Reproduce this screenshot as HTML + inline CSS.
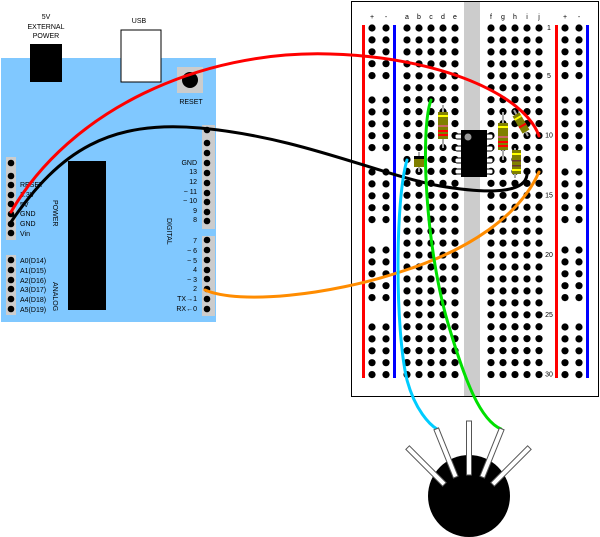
<!DOCTYPE html>
<html><head><meta charset="utf-8"><style>body{margin:0;background:#fff}svg{display:block}text{font-family:"Liberation Sans",sans-serif}</style></head>
<body>
<svg id="s" width="600" height="537" viewBox="0 0 600 537" xmlns="http://www.w3.org/2000/svg">
<!-- Arduino -->
<rect x="1" y="58" width="215" height="264" fill="#80c8ff"/>
<rect x="30" y="44" width="32" height="38" fill="#000"/>
<rect x="121" y="30" width="40" height="52" fill="#fff" stroke="#000"/>
<rect x="177" y="67" width="26" height="26" fill="#ccc"/>
<circle cx="190" cy="80" r="8" fill="#000"/>
<rect x="68" y="161" width="38" height="149" fill="#000"/>
<rect x="6" y="157" width="10" height="83" fill="#ccc"/>
<rect x="6" y="255" width="10" height="60" fill="#ccc"/>
<rect x="202" y="125" width="13" height="104" fill="#ccc"/>
<rect x="202" y="236" width="13" height="80" fill="#ccc"/>
<g font-size="7" fill="#000">
<text x="46" y="19" text-anchor="middle">5V</text>
<text x="46" y="29" text-anchor="middle">EXTERNAL</text>
<text x="46" y="38" text-anchor="middle">POWER</text>
<text x="139" y="23" text-anchor="middle">USB</text>
<text x="191" y="104" text-anchor="middle">RESET</text>
<text x="20" y="187">RESET</text><text x="20" y="197">3.3V</text><text x="20" y="207">5V</text>
<text x="20" y="216">GND</text><text x="20" y="226">GND</text><text x="20" y="236">Vin</text>
<text x="20" y="263">A0(D14)</text><text x="20" y="273">A1(D15)</text><text x="20" y="283">A2(D16)</text>
<text x="20" y="292">A3(D17)</text><text x="20" y="302">A4(D18)</text><text x="20" y="312">A5(D19)</text>
<g text-anchor="end">
<text x="197" y="165">GND</text><text x="197" y="174">13</text><text x="197" y="184">12</text>
<text x="197" y="194">~ 11</text><text x="197" y="203">~ 10</text><text x="197" y="213">9</text><text x="197" y="222">8</text>
<text x="197" y="243">7</text><text x="197" y="253">~ 6</text><text x="197" y="263">~ 5</text><text x="197" y="272">4</text>
<text x="197" y="282">~ 3</text><text x="197" y="291">2</text><text x="197" y="301">TX→1</text><text x="197" y="311">RX←0</text>
</g>
<text transform="translate(53,200) rotate(90)" font-size="7">POWER</text>
<text transform="translate(53,282) rotate(90)" font-size="7">ANALOG</text>
<text transform="translate(167,218) rotate(90)" font-size="7">DIGITAL</text>
</g>
<g id="ard" fill="#000"></g>
<!-- Breadboard -->
<rect x="351.5" y="1.5" width="247" height="395" fill="#fff" stroke="#000"/>
<rect x="464" y="2" width="16" height="394" fill="#ccc"/>
<rect x="362" y="25" width="3" height="353" fill="#f00"/>
<rect x="393" y="25" width="3" height="353" fill="#00f"/>
<rect x="555" y="25" width="3" height="353" fill="#f00"/>
<rect x="586" y="25" width="3" height="353" fill="#00f"/>
<g id="bb" fill="#000"></g>
<g font-size="7" fill="#000" text-anchor="middle" id="lbl">
<text x="372" y="19">+</text><text x="386" y="19">-</text><text x="565" y="19">+</text><text x="579" y="19">-</text>
</g>
<!-- chip -->
<g fill="#fff" stroke="#000" stroke-width="1">
<rect x="455" y="134" width="8" height="5" rx="2"/><rect x="455" y="146" width="8" height="5" rx="2"/><rect x="455" y="158" width="8" height="5" rx="2"/><rect x="455" y="169" width="8" height="5" rx="2"/>
<rect x="485" y="134" width="8" height="5" rx="2"/><rect x="485" y="146" width="8" height="5" rx="2"/><rect x="485" y="158" width="8" height="5" rx="2"/><rect x="485" y="169" width="8" height="5" rx="2"/>
</g>
<rect x="461" y="130" width="26" height="47" fill="#000"/>
<circle cx="468" cy="137" r="3.5" fill="#999"/>
<!-- resistors -->
<g>
<line x1="443" y1="105" x2="443" y2="148" stroke="#aaa" stroke-width="2"/>
<rect x="438" y="112" width="10" height="27" fill="#808000"/>
<rect x="438" y="115" width="10" height="2" fill="#ff0"/><rect x="438" y="125" width="10" height="2" fill="#c66"/><rect x="438" y="130" width="10" height="2" fill="#f00"/><rect x="438" y="134" width="10" height="2" fill="#f00"/>
<line x1="503" y1="112" x2="503" y2="160" stroke="#aaa" stroke-width="2"/>
<rect x="498" y="123" width="10" height="27" fill="#808000"/>
<rect x="498" y="126" width="10" height="2" fill="#ff0"/><rect x="498" y="136" width="10" height="2" fill="#c66"/><rect x="498" y="141" width="10" height="2" fill="#f00"/><rect x="498" y="145" width="10" height="2" fill="#f00"/>
<line x1="515" y1="148" x2="515" y2="178" stroke="#aaa" stroke-width="2"/>
<rect x="512" y="150" width="9" height="24" fill="#808000"/>
<rect x="512" y="153" width="9" height="2" fill="#ff0"/><rect x="512" y="160" width="9" height="1.5" fill="#633"/><rect x="512" y="165" width="9" height="1.5" fill="#633"/><rect x="512" y="169" width="9" height="2" fill="#ff0"/>
<line x1="514" y1="110" x2="528" y2="136" stroke="#aaa" stroke-width="2"/>
<rect x="-4" y="-10" width="8" height="20" fill="#808000" transform="translate(521,123) rotate(-30)"/>
<rect x="-4" y="-7" width="8" height="2" fill="#ff0" transform="translate(521,123) rotate(-30)"/>
<rect x="-4" y="2" width="8" height="2" fill="#f00" transform="translate(521,123) rotate(-30)"/>
<line x1="419" y1="152" x2="419" y2="172" stroke="#aaa" stroke-width="2"/>
<rect x="414" y="156" width="10" height="11" fill="#808000"/><rect x="414" y="156" width="10" height="3" fill="#000"/>
</g>
<!-- wires -->
<g fill="none" stroke-width="3" stroke-linecap="round">
<path d="M11,212 C70,110 200,50 330,54 C440,57 525,95 539,136" stroke="#f00"/>
<path d="M11,222 C60,150 110,120 200,128 C300,137 380,175 440,186 C500,196 525,190 527,175" stroke="#000"/>
<path d="M205,290 C240,305 330,295 400,272 C470,250 520,215 539,172" stroke="#ff8c00"/>
<path d="M407,160 C395,200 395,330 407,380 C415,410 430,425 437,429" stroke="#00ccff"/>
<path d="M431,100 C420,130 425,250 450,330 C465,380 480,420 501,429" stroke="#00e000"/>
</g>
<!-- sensor -->
<circle cx="469" cy="496" r="41" fill="#000"/>
<g fill="#fff" stroke="#555" stroke-width="1">
<rect x="-2.5" y="-27" width="5" height="54" transform="translate(469,448)"/>
<rect x="-2.5" y="-26" width="5" height="52" transform="translate(446,453) rotate(-22)"/>
<rect x="-2.5" y="-26" width="5" height="52" transform="translate(492,453) rotate(22)"/>
<rect x="-2.5" y="-26" width="5" height="52" transform="translate(426,466) rotate(-45)"/>
<rect x="-2.5" y="-26" width="5" height="52" transform="translate(511,466) rotate(45)"/>
</g>
</svg>
<script>
var NS="http://www.w3.org/2000/svg";
function dot(g,x,y,r){var c=document.createElementNS(NS,"circle");c.setAttribute("cx",x);c.setAttribute("cy",y);c.setAttribute("r",r);g.appendChild(c);}
var bb=document.getElementById("bb");
var cols=[407,419,431,443,455,491,503,515,527,539];
for(var r=0;r<30;r++){var y=28+r*11.95;for(var c=0;c<10;c++)dot(bb,cols[c],y,3.6);}
var groups=[28,100,172,250,327];
groups.forEach(function(g0){for(var k=0;k<5;k++){var y=g0+k*11.9;[372,386,565,579].forEach(function(x){dot(bb,x,y,3.6);});}});
var lbl=document.getElementById("lbl");
"abcde".split("").forEach(function(l,i){var t=document.createElementNS(NS,"text");t.setAttribute("x",cols[i]);t.setAttribute("y",19);t.textContent=l;lbl.appendChild(t);});
"fghij".split("").forEach(function(l,i){var t=document.createElementNS(NS,"text");t.setAttribute("x",cols[i+5]);t.setAttribute("y",19);t.textContent=l;lbl.appendChild(t);});
[[1,0],[5,4],[10,9],[15,14],[20,19],[25,24],[30,29]].forEach(function(p){var t=document.createElementNS(NS,"text");t.setAttribute("x",549);t.setAttribute("y",30+p[1]*11.95);t.textContent=p[0];lbl.appendChild(t);});
var ard=document.getElementById("ard");
[163,176,185,195,204,214,224,233,260,270,280,289,299,309].forEach(function(y){dot(ard,11,y,3.3);});
[130,143,153,163,173,183,193,202,212,221,240,250,260,270,279,289,299,309].forEach(function(y){dot(ard,207,y,3.3);});
</script>
</body></html>
